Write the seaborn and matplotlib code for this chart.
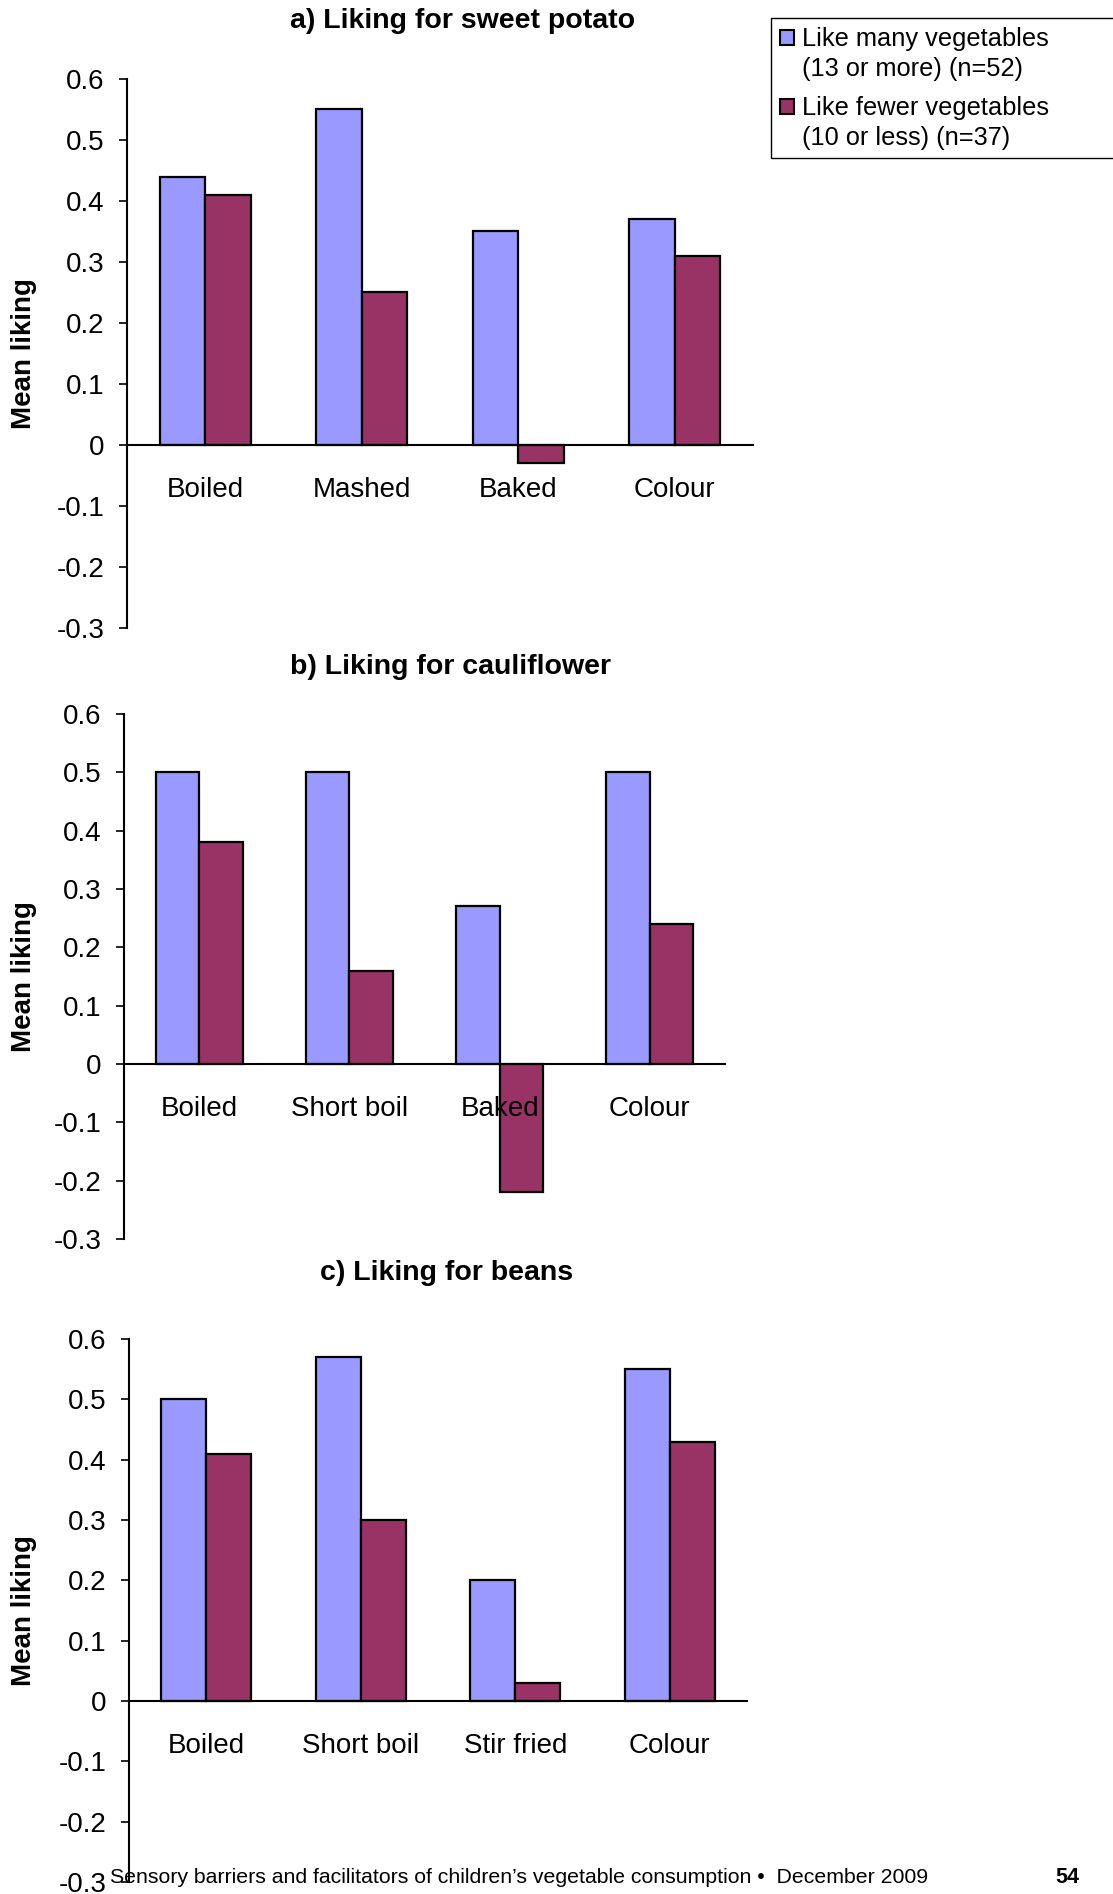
import numpy as np
import pandas as pd
import matplotlib
matplotlib.use('Agg')
import matplotlib.pyplot as plt
from matplotlib.patches import Patch, Rectangle
from matplotlib.legend_handler import HandlerPatch
import seaborn as sns

# === Data ===
GROUPS = ['Like many vegetables\n(13 or more) (n=52)',
          'Like fewer vegetables\n(10 or less) (n=37)']
COLORS = ['#9999FF', '#993366']

TITLES = ['a) Liking for sweet potato',
          'b) Liking for cauliflower',
          'c) Liking for beans']

cats_potato = ['Boiled', 'Mashed', 'Baked', 'Colour']
many_potato = [0.44, 0.55, 0.35, 0.37]
fewer_potato = [0.41, 0.25, -0.03, 0.31]

cats_cauli = ['Boiled', 'Short boil', 'Baked', 'Colour']
many_cauli = [0.50, 0.50, 0.27, 0.50]
fewer_cauli = [0.38, 0.16, -0.22, 0.24]

cats_beans = ['Boiled', 'Short boil', 'Stir fried', 'Colour']
many_beans = [0.50, 0.57, 0.20, 0.55]
fewer_beans = [0.41, 0.30, 0.03, 0.43]

Y_TICKS = [-0.3, -0.2, -0.1, 0, 0.1, 0.2, 0.3, 0.4, 0.5, 0.6]
Y_LABELS = ['-0.3', '-0.2', '-0.1', '0', '0.1', '0.2', '0.3', '0.4', '0.5', '0.6']

FOOTER = 'Sensory barriers and facilitators of children\u2019s vegetable consumption \u2022  December 2009'
PAGE = '54'

# === Style ===
sns.set_style('white')
plt.rcParams['font.family'] = ['Liberation Sans', 'DejaVu Sans']
plt.rcParams['text.color'] = 'black'

W, H = 1113, 1894
fig = plt.figure(figsize=(W / 100, H / 100), dpi=100)

# axes rects in pixels: left, right, top(0.6), bottom(-0.3)
RECTS = [(127, 753, 79, 628), (124, 725, 714, 1239), (129, 747, 1339, 1882)]
TITLE_POS = [(463, 21), (450, 667), (447, 1273)]

panels = [(cats_potato, many_potato, fewer_potato),
          (cats_cauli, many_cauli, fewer_cauli),
          (cats_beans, many_beans, fewer_beans)]

for (l, r, t, b), (cats, many, fewer), title, (tx, ty) in zip(RECTS, panels, TITLES, TITLE_POS):
    ax = fig.add_axes([l / W, 1 - b / H, (r - l) / W, (b - t) / H])
    df = pd.DataFrame({
        'method': cats + cats,
        'liking': many + fewer,
        'group': [GROUPS[0]] * len(cats) + [GROUPS[1]] * len(cats),
    })
    sns.barplot(data=df, x='method', y='liking', hue='group', palette=COLORS,
                saturation=1, width=0.58, edgecolor='black', linewidth=1.6,
                errorbar=None, legend=False, ax=ax)
    ax.set_axisbelow(False)
    ax.set_xlim(-0.5, 3.5)
    ax.set_ylim(-0.3, 0.6)
    ax.set_yticks(Y_TICKS, Y_LABELS)
    ax.set_xlabel('')
    ax.set_ylabel('')
    for s in ['top', 'right']:
        ax.spines[s].set_visible(False)
    ax.spines['bottom'].set_position(('data', 0))
    ax.spines['bottom'].set_linewidth(1.5)
    ax.spines['bottom'].set_color('black')
    ax.spines['left'].set_linewidth(1.5)
    ax.spines['left'].set_color('black')
    ax.tick_params(axis='y', left=True, direction='out', length=6, width=1.2,
                   pad=10, labelsize=20, colors='black')
    ax.tick_params(axis='x', length=0, pad=23, labelsize=20, colors='black')
    ax.patch.set_alpha(0)

    fig.text(tx / W, 1 - ty / H, title, ha='center', va='center',
             fontsize=20.5, fontweight='bold')
    fig.text(24 / W, 1 - (t + b) / 2 / H, 'Mean liking', rotation=90,
             ha='center', va='center', fontsize=20, fontweight='bold')


# legend square sits beside the first line of each two-line label
def top_square(legend, orig_handle, xdescent, ydescent, width, height, fontsize):
    return Rectangle((-xdescent, -ydescent + 0.65 * fontsize), width, height)


handles = [Patch(facecolor=c, edgecolor='black', linewidth=1.5) for c in COLORS]
leg = fig.legend(handles, GROUPS, loc='upper left',
                 bbox_to_anchor=(771 / W, 0.8, 0.4, 1 - 18 / H - 0.8),
                 mode='expand', borderaxespad=0, fontsize=18.3,
                 handlelength=0.55, handleheight=0.55, handletextpad=0.3,
                 borderpad=0.35, labelspacing=0.6, fancybox=False,
                 edgecolor='black', framealpha=1,
                 handler_map={Patch: HandlerPatch(patch_func=top_square)})
leg.get_frame().set_linewidth(1.0)
for txt in leg.get_texts():
    txt.set_linespacing(1.3)

fig.text(110 / W, 1 - 1877 / H, FOOTER, ha='left', va='center', fontsize=15.3)
fig.text(1067 / W, 1 - 1877 / H, PAGE, ha='center', va='center',
         fontsize=15.5, fontweight='bold')

fig.savefig('out.png', dpi=100)
